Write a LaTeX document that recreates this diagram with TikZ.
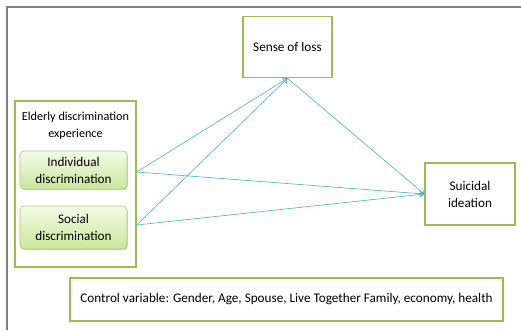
\documentclass[tikz,border=0pt]{standalone}
\usepackage{fontspec}
\setmainfont{Carlito}
\usetikzlibrary{arrows.meta,shadows,positioning}
\definecolor{gborder}{HTML}{9BBB59}
\definecolor{lblue}{HTML}{4BACC6}
\definecolor{frame}{HTML}{7F7F7F}
\definecolor{gtop}{HTML}{F4FAE8}
\definecolor{gbot}{HTML}{C9E79A}
\tikzset{
  lbl/.style={font=\fontsize{13.2}{17}\selectfont},
  varbox/.style={draw=gborder, line width=1.6pt, fill=white, align=center, inner sep=0pt, lbl},
  subbox/.style={draw=gborder!80, line width=0.6pt, rounded corners=4pt, top color=gtop, bottom color=gbot,
     drop shadow={shadow xshift=0.8pt, shadow yshift=-1.2pt, fill=black!35}, align=center, inner sep=0pt,
     minimum width=107pt, minimum height=38pt, lbl},
  conn/.style={draw=lblue, line width=0.6pt},
  arr/.style={conn, -{Straight Barb[length=4pt,width=6pt]}}
}
\begin{document}
\begin{tikzpicture}[x=1pt,y=-1pt]
\useasboundingbox (0,0) rectangle (521,330);
\draw[frame, line width=2pt] (521,6.5) -- (7,6.5) -- (7,330);
% nodes
\node[varbox, minimum width=89pt, minimum height=61pt] (loss) at (287.5,47) {Sense of loss};
\node[varbox, minimum width=90pt, minimum height=62pt] (sui) at (470,194) {Suicidal\\ideation};
\node[varbox, line width=1.4pt, minimum width=121pt, minimum height=166pt] (eld) at (75.5,184) {};
\node[lbl, font=\fontsize{12.2}{17}\selectfont, align=center, inner sep=0pt] (eldt) at (75.5,125.5) {Elderly discrimination\\experience};
\node[subbox] (ind) at (73.5,170) {Individual\\discrimination};
\node[subbox, minimum height=43pt] (soc) at (73.5,227.5) {Social\\discrimination};
\node[varbox, line width=1.4pt, minimum width=433pt, minimum height=43pt] (ctrl) at (286.5,299.5) {Control variable: Gender, Age, Spouse, Live Together Family, economy, health};
% connector start points
\coordinate (a) at (eld.east |- 0,172);
\coordinate (b) at (eld.east |- 0,225);
\draw[arr] (a) -- (loss.south);
\draw[arr] (b) -- (loss.south);
\draw[arr] (a) -- (sui.west);
\draw[arr] (b) -- (sui.west);
\draw[arr] (loss.south) -- (sui.west);
\end{tikzpicture}
\end{document}
